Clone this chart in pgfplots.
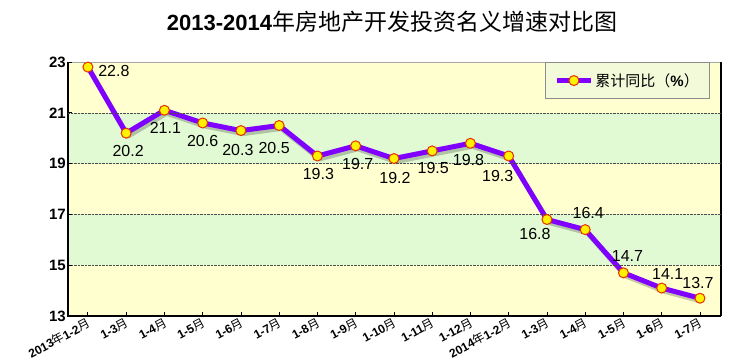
\documentclass[border=0pt]{standalone}
\usepackage{fontspec}
\setmainfont{Liberation Sans}
\newfontfamily\cjk{Noto Sans CJK SC}
\usepackage{pgfplots}
\usepackage{pgfplotstable}
\pgfplotsset{compat=1.18}
\definecolor{lineviolet}{RGB}{127,0,255}
\definecolor{markedge}{RGB}{230,50,0}
\definecolor{bandyellow}{RGB}{255,255,208}
\definecolor{bandgreen}{RGB}{226,250,212}
\definecolor{legfill}{RGB}{242,250,218}

\pgfplotstableread{
x y lab xs ys
0 22.8 22.8 26 -4
1 20.2 20.2 2 -18
2 21.1 21.1 1 -18
3 20.6 20.6 0 -18
4 20.3 20.3 -3 -19
5 20.5 20.5 -5 -22
6 19.3 19.3 1 -18
7 19.7 19.7 2 -18
8 19.2 19.2 1 -19
9 19.5 19.5 1 -17
10 19.8 19.8 -2 -17
11 19.3 19.3 -11 -20
12 16.8 16.8 -12 -15
13 16.4 16.4 3 17
14 14.7 14.7 4 17
15 14.1 14.1 6 14
16 13.7 13.7 -2 15
}\datatable

\newcommand{\Y}{{\cjk\mdseries 年}}
\newcommand{\M}{{\cjk\mdseries 月}}

\begin{document}
\begin{tikzpicture}
\useasboundingbox (-68pt,-44pt) rectangle (668pt,316pt);
\begin{axis}[
  at={(0pt,0pt)}, anchor=south west,
  scale only axis, width=653pt, height=254pt,
  xmin=-0.52, xmax=16.55, ymin=13, ymax=23,
  clip=false,
  axis on top,
  axis line style={draw=none},
  xtick={0,...,16},
  xticklabels={2013\Y 1-2\M, 1-3\M, 1-4\M, 1-5\M, 1-6\M, 1-7\M, 1-8\M, 1-9\M, 1-10\M, 1-11\M, 1-12\M, 2014\Y 1-2\M, 1-3\M, 1-4\M, 1-5\M, 1-6\M, 1-7\M},
  xtick pos=bottom, ytick pos=left,
  x tick style={black, line width=0.8pt}, y tick style={black, line width=0.8pt},
  major tick length=4pt,
  xtick align=inside,
  x tick label style={rotate=28, anchor=north east, inner sep=0.5pt, xshift=-1pt, yshift=0pt, font=\bfseries\fontsize{12}{12}\selectfont},
  y tick label style={font=\bfseries\fontsize{15}{15}\selectfont, inner sep=2pt},
  /pgf/number format/assume math mode=true,
  ytick={15,17,19,21},
  extra y ticks={13,23},
  extra y tick style={grid=none},
  ymajorgrids,
  grid style={densely dotted, black!70, line width=0.6pt},
  legend style={at={(0.7305,1)}, anchor=north west, draw=black!45, line width=0.8pt, fill=legfill,
    font=\fontsize{15}{15}\selectfont, inner xsep=9pt, inner ysep=9pt, row sep=0pt},
  legend cell align=left,
  legend image code/.code={\draw[mark repeat=2, mark phase=2, #1] plot coordinates {(0pt,0pt) (17pt,0pt) (34pt,0pt)};},
]
% background bands
\fill[bandyellow] (rel axis cs:0,0) rectangle (rel axis cs:1,0.2);
\fill[bandgreen] (rel axis cs:0,0.2) rectangle (rel axis cs:1,0.4);
\fill[bandyellow] (rel axis cs:0,0.4) rectangle (rel axis cs:1,0.6);
\fill[bandgreen] (rel axis cs:0,0.6) rectangle (rel axis cs:1,0.8);
\fill[bandyellow] (rel axis cs:0,0.8) rectangle (rel axis cs:1,1);
% frame
\draw[black!35, line width=0.8pt] (rel axis cs:0,1) -- (rel axis cs:1,1);
\draw[black, line width=1.2pt] (rel axis cs:1,0) -- (rel axis cs:1,1);
\draw[black, line width=1.6pt] (rel axis cs:0,1) -- (rel axis cs:0,0) -- (rel axis cs:1,0);
% shadow
\addplot[forget plot, draw=black, opacity=0.22, line width=5pt, xshift=2pt, yshift=-3pt, line join=round] table[x=x, y=y] {\datatable};
% main series
\addplot[lineviolet, line width=5pt, line join=round,
  mark=*, mark size=5pt, mark options={fill=yellow, draw=markedge, line width=1pt},
  nodes near coords, point meta=explicit symbolic,
  visualization depends on={\thisrow{xs} \as \xs},
  visualization depends on={\thisrow{ys} \as \ys},
  every node near coord/.append style={anchor=center, xshift=\xs pt, yshift=\ys pt, text=black, font=\fontsize{16}{16}\selectfont, inner sep=0pt},
] table[x=x, y=y, meta=lab] {\datatable};
\addlegendentry{{\cjk 累计同比（}{\bfseries\%}{\cjk ）}}
\end{axis}
\node[anchor=center] at (324pt,294pt) {\fontsize{22}{22}\selectfont\bfseries 2013-2014{\cjk\mdseries\fontsize{23}{23}\selectfont 年房地产开发投资名义增速对比图}};
\end{tikzpicture}
\end{document}
